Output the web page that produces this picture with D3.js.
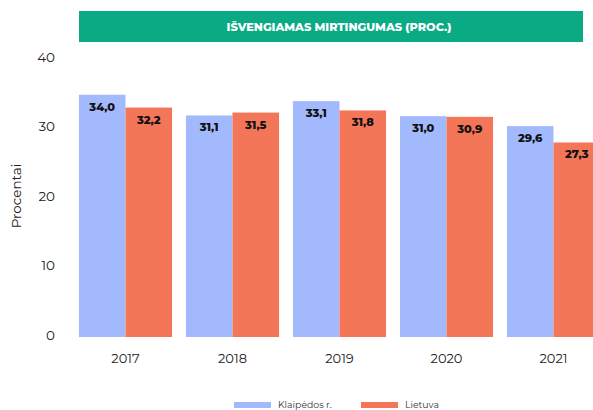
<!DOCTYPE html>
<html>
  <head>
    <meta charset="utf-8">
    <title>Išvengiamas mirtingumas</title>
    <script src="https://d3js.org/d3.v7.min.js"></script>
    <style>
      body { margin: 0; background: #fff; }
      svg { font-family: "Montserrat", "DejaVu Sans", sans-serif; }
    </style>
  </head>
  <body>
    <div id="chart"></div>
    <script>
      const years = ["2017", "2018", "2019", "2020", "2021"];
      const seriesNames = ["Klaipėdos r.", "Lietuva"];
      const klaipedos = [34.0, 31.1, 33.1, 31.0, 29.6];
      const lietuva = [32.2, 31.5, 31.8, 30.9, 27.3];
      const yTicks = [0, 10, 20, 30, 40];
      const colors = ["#a3b9fd", "#f47659"];

      const width = 593, height = 410;
      const svg = d3.select("#chart")
        .append("svg")
        .attr("width", width)
        .attr("height", height);

      // title banner
      svg.append("rect")
        .attr("x", 79).attr("y", 11)
        .attr("width", 504).attr("height", 31)
        .attr("fill", "#0aab84");
      svg.append("text")
        .attr("x", 339).attr("y", 27)
        .attr("dy", "0.35em")
        .attr("text-anchor", "middle")
        .attr("fill", "#fff")
        .attr("font-size", "11.3px")
        .attr("font-weight", 800)
        .text("IŠVENGIAMAS MIRTINGUMAS (PROC.)");

      const x = d3.scaleBand()
        .domain(years)
        .range([72, 607])
        .paddingInner(0.13)
        .paddingOuter(0.065);

      const x1 = d3.scaleBand()
        .domain(seriesNames)
        .range([0, x.bandwidth()]);

      // bars and tick labels sit on slightly different scales in the original
      const y = d3.scaleLinear()
        .domain([0, 40])
        .range([337, 52]);

      const yLab = d3.scaleLinear()
        .domain([0, 40])
        .range([335, 57]);

      svg.append("g")
        .selectAll("text")
        .data(yTicks)
        .join("text")
        .attr("x", 55)
        .attr("y", d => yLab(d))
        .attr("dy", "0.35em")
        .attr("text-anchor", "end")
        .attr("font-size", "13.5px")
        .attr("fill", "#222")
        .text(d => d);

      svg.append("text")
        .attr("transform", "translate(21,196) rotate(-90)")
        .attr("text-anchor", "middle")
        .attr("font-size", "13.5px")
        .attr("fill", "#222")
        .text("Procentai");

      const data = years.map((yr, i) => ({ year: yr, values: [klaipedos[i], lietuva[i]] }));

      const groups = svg.append("g")
        .selectAll("g")
        .data(data)
        .join("g")
        .attr("transform", d => `translate(${x(d.year)},0)`);

      groups.selectAll("rect")
        .data(d => d.values.map((v, j) => ({ key: seriesNames[j], v, j })))
        .join("rect")
        .attr("x", d => x1(d.key))
        .attr("y", d => y(d.v))
        .attr("width", x1.bandwidth())
        .attr("height", d => y(0) - y(d.v))
        .attr("fill", d => colors[d.j]);

      groups.selectAll("text")
        .data(d => d.values.map((v, j) => ({ key: seriesNames[j], v })))
        .join("text")
        .attr("x", d => x1(d.key) + x1.bandwidth() / 2)
        .attr("y", d => y(d.v) + 12)
        .attr("dy", "0.35em")
        .attr("text-anchor", "middle")
        .attr("font-size", "11.3px")
        .attr("font-weight", 800)
        .attr("fill", "#111")
        .text(d => d.v.toFixed(1).replace(".", ","));

      // x labels
      svg.append("g")
        .selectAll("text")
        .data(years)
        .join("text")
        .attr("x", d => x(d) + x.bandwidth() / 2)
        .attr("y", 358)
        .attr("dy", "0.35em")
        .attr("text-anchor", "middle")
        .attr("font-size", "13px")
        .attr("fill", "#222")
        .text(d => d);

      // legend
      const legendX = [234, 361];
      const legend = svg.append("g")
        .selectAll("g")
        .data(seriesNames)
        .join("g")
        .attr("transform", (d, i) => `translate(${legendX[i]},402)`);
      legend.append("rect")
        .attr("width", 37).attr("height", 6)
        .attr("fill", (d, i) => colors[i]);
      legend.append("text")
        .attr("x", 44).attr("y", 3)
        .attr("dy", "0.35em")
        .attr("font-size", "9.3px")
        .attr("fill", "#333")
        .text(d => d);
    </script>
  </body>
</html>
